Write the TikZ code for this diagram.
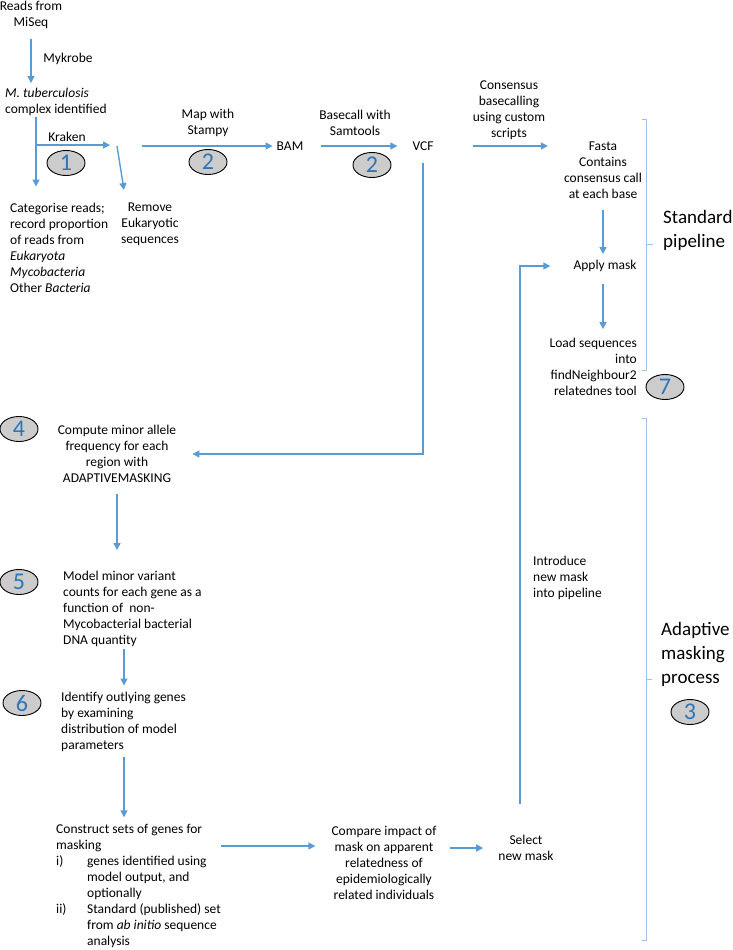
\documentclass[tikz,border=0pt]{standalone}
\usepackage{fontspec}
\setmainfont{Carlito}
\usetikzlibrary{arrows.meta,shapes.geometric,calc}
\definecolor{flowblue}{HTML}{5B9BD5}
\definecolor{braceblue}{HTML}{9DC3E6}
\definecolor{digitblue}{HTML}{2E75B6}
\tikzset{
	txt/.style={inner sep=0pt, font=\fontsize{13.5}{16}\selectfont},
	bigtxt/.style={inner sep=0pt, align=left, font=\fontsize{19}{24}\selectfont},
	flow/.style={draw=flowblue, line width=1.4pt, -{Triangle[length=7pt,width=7pt]}},
	brace/.style={draw=braceblue, line width=0.8pt},
	badge/.style={ellipse, draw=black, line width=0.9pt, fill=black!20, minimum width=38pt, minimum height=25pt, inner sep=0pt, text=digitblue, font=\fontsize{24}{24}\selectfont},
}
\def\badge(#1)#2#3{\node[badge] (#2) at (#1) {\raisebox{-2pt}{#3}};}

\begin{document}
\begin{tikzpicture}[x=1pt,y=-1pt]
		%%%%% START %%%%%
		\useasboundingbox (0,0) rectangle (733,950);
		
		\node[txt, align=center] (reads) at (31,15) {Reads from\\MiSeq};
		\node[txt, align=left, anchor=west] (mtb) at (5,102) {\textit{M. tuberculosis}\\complex identified};
		\node[txt, align=left, anchor=west] (cat) at (10,247.5) {Categorise reads;\\record proportion\\of reads from\\\textit{Eukaryota}\\\textit{Mycobacteria}\\Other \textit{Bacteria}};
		\node[txt, align=center] (remove) at (150,224) {Remove\\Eukaryotic\\sequences};
		\node[txt] (bam) at (290,146) {BAM};
		\node[txt] (vcf) at (423,146) {VCF};
		\node[txt, align=center] (fasta) at (603,170) {Fasta\\Contains\\consensus call\\at each base};
		\node[txt] (apply) at (605,266) {Apply mask};
		\node[txt, align=right, anchor=east] (load) at (637,367) {Load sequences\\into\\findNeighbour2\\relatednes tool};
		
		\node[txt, align=center] (compute) at (117,454) {Compute minor allele\\frequency for each\\region with\\ADAPTIVEMASKING};
		\node[txt, align=left, anchor=west] (model) at (63,609) {Model minor variant\\counts for each gene as a\\function of~ non-\\Mycobacterial bacterial\\DNA quantity};
		\node[txt, align=left, anchor=west] (identify) at (61,721.5) {Identify outlying genes\\by examining\\distribution of model\\parameters};
		\node[txt, anchor=west] (construct) at (56,886.5) {\begin{tabular}{@{}p{31pt}@{}l@{}}
				\multicolumn{2}{@{}l@{}}{Construct sets of genes for}\\
				\multicolumn{2}{@{}l@{}}{masking}\\
				i) & genes identified using\\
				& model output, and\\
				& optionally\\
				ii) & Standard (published) set\\
				& from \textit{ab initio} sequence\\
				& analysis
		\end{tabular}};
		\node[txt, align=center] (compare) at (384,862.5) {Compare impact of\\mask on apparent\\relatedness of\\epidemiologically\\related individuals};
		\node[txt, align=center] (select) at (526,848) {Select\\new mask};
		\node[txt, align=left, anchor=west] (introduce) at (533,578) {Introduce\\new mask\\into pipeline};
		
		% labels on the arrows
		\node[txt] (mykrobe) at (68,59) {Mykrobe};
		\node[txt] (kraken) at (67,137) {Kraken};
		\node[txt, align=center] (stampy) at (208,122.5) {Map with\\Stampy};
		\node[txt, align=center] (samtools) at (355,123) {Basecall with\\Samtools};
		\node[txt, align=center] (scripts) at (509,110) {Consensus\\basecalling\\using custom\\scripts};
		\node[bigtxt, anchor=west] (stdlab) at (663,230) {Standard\\pipeline};
		\node[bigtxt, anchor=west] (adalab) at (661,654) {Adaptive\\masking\\process};
		
		\badge(66,163){bOne}{1}
		\badge(208,162){bTwoA}{2}
		\badge(372,165){bTwoB}{2}
		\badge(19,429){bFour}{4}
		\badge(19,582){bFive}{5}
		\badge(22,703){bSix}{6}
		\badge(665,387){bSeven}{7}
		\badge(690,712){bThree}{3}
		
		\coordinate (kj) at (36,145);
		\coordinate (kt) at (110,145);
		\coordinate (ds) at (117,146);
		\coordinate (de) at (124,190);
		\coordinate (ms) at (142,146);
		\coordinate (mx) at (124,0);
		
		\draw[flow, shorten <=10pt, shorten >=5pt] (reads.south) -- (reads.south |- mtb.north);
		\draw[flow, shorten <=1.5pt, shorten >=16pt] (mtb.south -| kj) -- (cat.north -| kj);
		\draw[flow] (kj) -- (kt);
		\draw[flow] (ds) -- (de);
		\draw[flow, shorten >=4pt] (ms) -- (ms -| bam.west);
		\draw[flow, shorten <=18pt, shorten >=15pt] (bam.east) -- (vcf.west);
		\draw[flow, shorten <=12pt, shorten >=16pt] (vcf.south) |- (compute.east);
		\draw[flow, shorten <=39pt, shorten >=16pt] (vcf.east) -- (vcf.east -| fasta.west);
		\draw[flow, shorten <=11pt, shorten >=6pt] (fasta.south) -- (fasta.south |- apply.north);
		\draw[flow, shorten <=12pt, shorten >=9pt] (apply.south -| fasta.south) -- (load.north -| fasta.south);
		
		\draw[flow, shorten <=11pt, shorten >=21pt] (compute.south) -- (compute.south |- model.north);
		\draw[flow, shorten <=2.5pt, shorten >=6pt] (model.south -| mx) -- (identify.north -| mx);
		\draw[flow, shorten <=5.5pt, shorten >=5pt] (identify.south -| mx) -- (construct.north -| mx);
		\draw[flow, shorten >=16pt] ([yshift=40.5pt]construct.east) -- ([yshift=40.5pt]construct.east -| compare.west);
		\draw[flow, shorten <=13pt, shorten >=15pt] (compare.east |- select) -- (select.west);
		\draw[flow, shorten >=23pt] ([xshift=-6pt,yshift=31pt]select.north) |- (apply.west);
		
		% brackets on the right
		\draw[brace] (642,119) -- (646,119) -- (646,370) -- (642,370);
		\draw[brace] (646,244) -- (653,244);
		\draw[brace] (642,418) -- (646,418) -- (646,940) -- (642,940);
		\draw[brace] (646,679) -- (652,679);
		
		%%%%% END %%%%%
\end{tikzpicture}
\end{document}
